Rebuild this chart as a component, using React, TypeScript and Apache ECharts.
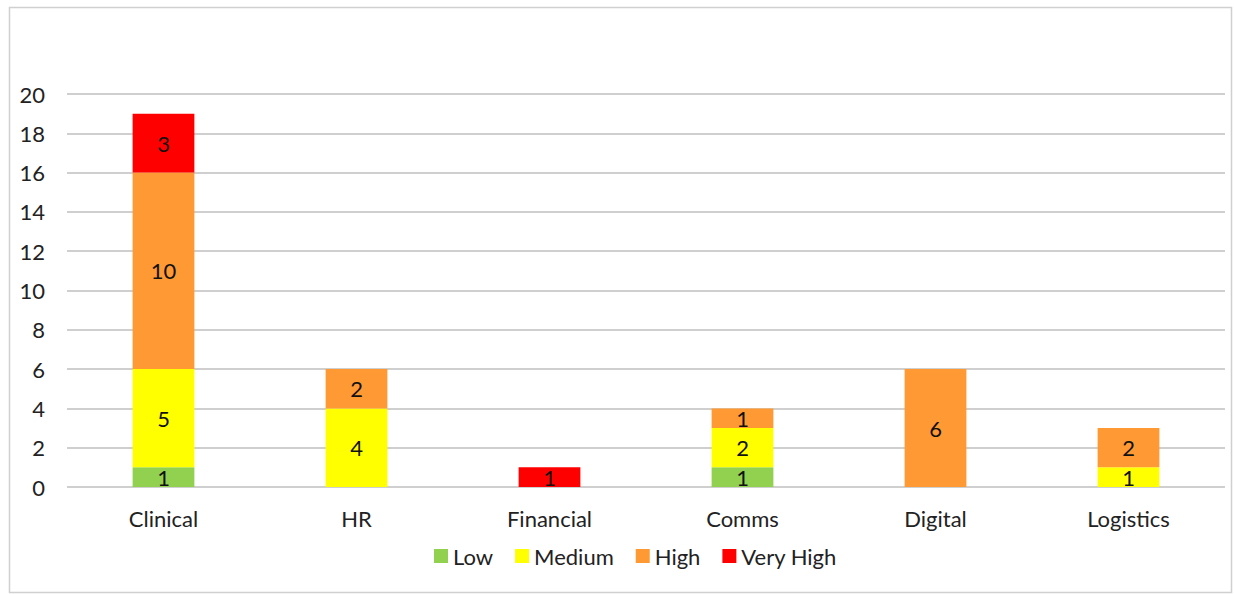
import React, { useEffect, useRef } from "react";
import * as echarts from "echarts";

const categories = ["Clinical", "HR", "Financial", "Comms", "Digital", "Logistics"];
const lowValues = [1, 0, 0, 1, 0, 0];
const mediumValues = [5, 4, 0, 2, 0, 1];
const highValues = [10, 2, 0, 1, 6, 2];
const veryHighValues = [3, 0, 1, 0, 0, 0];
const seriesNames = ["Low", "Medium", "High", "Very High"];
const seriesColors = ["#92D050", "#FFFF00", "#FF9933", "#FF0000"];

const FONT = "Lato, 'Open Sans', sans-serif";
const FS = 22;

export default function App() {
  const ref = useRef<HTMLDivElement>(null);
  useEffect(() => {
    if (!ref.current) return;
    const chart = echarts.init(ref.current, undefined, { renderer: "svg" });
    const values = [lowValues, mediumValues, highValues, veryHighValues];
    chart.setOption({
      animation: false,
      backgroundColor: "#ffffff",
      textStyle: { fontFamily: FONT },
      graphic: [
        {
          type: "rect",
          shape: { x: 9.5, y: 7.5, width: 1222, height: 585 },
          style: { fill: "none", stroke: "#D0D0D0", lineWidth: 1.5 },
          silent: true,
        },
      ],
      grid: { left: 67, right: 9, top: 94, bottom: 107, containLabel: false },
      legend: {
        bottom: 22,
        left: 429,
        itemWidth: 14,
        itemHeight: 14,
        itemGap: 22,
        icon: "rect",
        textStyle: { fontSize: FS, color: "#222", fontFamily: FONT },
        data: seriesNames,
      },
      xAxis: {
        type: "category",
        data: categories,
        axisLine: { show: false },
        axisTick: { show: false },
        axisLabel: { fontSize: FS, color: "#222", margin: 20, fontFamily: FONT },
      },
      yAxis: {
        type: "value",
        min: 0,
        max: 20,
        interval: 2,
        axisLine: { show: false },
        axisTick: { show: false },
        axisLabel: { fontSize: FS, color: "#222", margin: 22, fontFamily: FONT },
        splitLine: { lineStyle: { color: "#CFCFCF", width: 2 } },
      },
      series: seriesNames.map((name, i) => ({
        name,
        type: "bar",
        stack: "total",
        barWidth: "32%",
        itemStyle: { color: seriesColors[i] },
        label: {
          show: true,
          position: "inside",
          color: "#111",
          fontSize: FS,
          fontFamily: FONT,
          formatter: (p: any) => (p.value ? String(p.value) : ""),
        },
        data: values[i].map((v) => (v === 0 ? null : v)),
      })),
    });
    return () => chart.dispose();
  }, []);
  return (
    <div
      ref={ref}
      style={{ position: "absolute", left: 0, top: 0, width: 1234, height: 594 }}
    />
  );
}
